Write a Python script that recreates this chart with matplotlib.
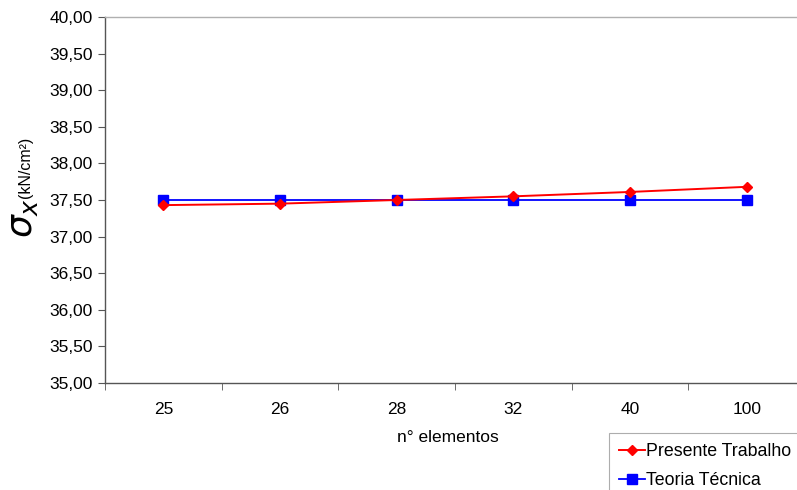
import matplotlib
matplotlib.use("Agg")
import matplotlib.pyplot as plt
from matplotlib.ticker import FixedLocator, FuncFormatter

plt.rcParams['font.family'] = ['Liberation Sans', 'DejaVu Sans']

categories = ["25", "26", "28", "32", "40", "100"]
presente_trabalho = [37.43, 37.45, 37.50, 37.55, 37.61, 37.68]
teoria_tecnica = [37.50, 37.50, 37.50, 37.50, 37.50, 37.50]
y_ticks = [35.0, 35.5, 36.0, 36.5, 37.0, 37.5, 38.0, 38.5, 39.0, 39.5, 40.0]

FS = 12.5

fig = plt.figure(figsize=(7.97, 4.90), dpi=100)
ax = fig.add_axes([105 / 797, 107 / 490, 700 / 797, 366 / 490])

x = list(range(len(categories)))
l1, = ax.plot(x, presente_trabalho, color='#ff0000', lw=1.4, marker='D',
              markersize=5, label='Presente Trabalho', zorder=3)
l2, = ax.plot(x, teoria_tecnica, color='#0000ff', lw=1.3, marker='s',
              markersize=6.5, label='Teoria Técnica', zorder=2)

ax.set_xlim(-0.5, len(categories) - 0.5)
ax.set_ylim(35.0, 40.0)
ax.set_xticks(x)
ax.set_xticklabels(categories, fontsize=FS)
ax.xaxis.set_minor_locator(FixedLocator([i - 0.5 for i in range(len(categories) + 1)]))
ax.tick_params(axis='x', which='major', length=0, pad=14)
ax.tick_params(axis='x', which='minor', length=5, direction='out', color='#555555')
ax.set_yticks(y_ticks)
ax.yaxis.set_major_formatter(FuncFormatter(lambda v, p: f"{v:.2f}".replace('.', ',')))
ax.tick_params(axis='y', length=5, direction='out', color='#555555', labelsize=FS, pad=4)

for s in ['left', 'bottom']:
    ax.spines[s].set_color('#555555')
    ax.spines[s].set_linewidth(1.0)
ax.spines['top'].set_color('#b0b0b0')
ax.spines['top'].set_linewidth(1.0)
ax.spines['right'].set_visible(False)

ax.set_xlabel('n° elementos', fontsize=FS)
ax.xaxis.set_label_coords((448 - 105) / 700, -(437 - 383) / 366)
ax.xaxis.label.set_va('center')

fig.text(23 / 797, 1 - 218 / 490, r'$\sigma_x$', fontsize=26, rotation=90,
         ha='center', va='center', family='DejaVu Sans')
fig.text(26 / 797, 1 - 167 / 490, '(kN/cm²)', fontsize=11.5, rotation=90,
         ha='center', va='center')

leg = fig.legend(handles=[l1, l2], loc='upper left',
                 bbox_to_anchor=(609 / 797, 1 - 433 / 490), fontsize=12.8,
                 frameon=True, fancybox=False, edgecolor='#999999',
                 handlelength=1.45, handletextpad=0.1, borderpad=0.55,
                 labelspacing=0.68, borderaxespad=0)
leg.get_frame().set_linewidth(0.8)

fig.savefig('out.png', dpi=100)
